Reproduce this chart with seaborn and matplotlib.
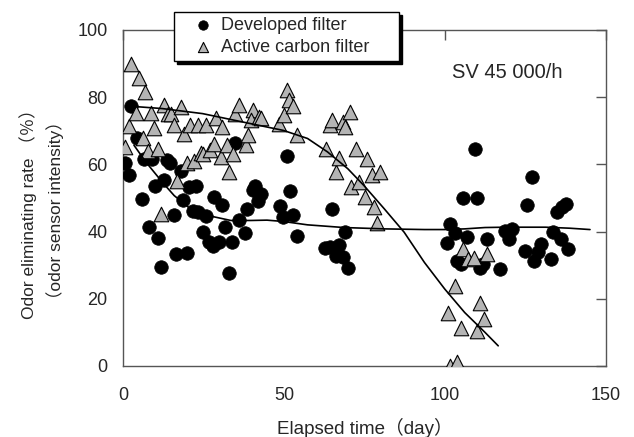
import numpy as np
import pandas as pd
import matplotlib
matplotlib.use("Agg")
import matplotlib.pyplot as plt
import seaborn as sns

# Developed filter (circles)
dev_day = [0.6, 1.9, 2.5, 4.3, 5.8, 6.6, 8.0, 8.9, 9.9, 10.8, 11.9, 12.8, 13.8, 14.7,
           15.9, 16.5, 17.9, 18.7, 20.0, 20.4, 22.8, 21.7, 23.4, 25.7, 24.7, 26.6, 28.1,
           28.4, 29.9, 30.7, 31.8, 32.8, 33.8, 34.7, 35.9, 37.9, 38.5, 40.3, 40.9, 41.9,
           42.9, 48.8, 49.8, 51.0, 51.8, 52.9, 54.0, 62.7, 64.2, 64.8, 66.1, 67.0, 68.3,
           68.9, 69.8, 100.5, 101.5, 103.0, 103.7, 104.9, 105.5, 106.8, 109.3, 109.9,
           110.9, 111.9, 113.0, 117.0, 118.7, 119.9, 120.9, 124.9, 125.5, 127.0, 127.7,
           128.9, 129.9, 132.8, 133.6, 134.9, 136.2, 135.9, 137.4, 138.1]
dev_rate = [60.4, 56.7, 77.3, 67.9, 49.6, 61.6, 41.3, 61.6, 53.6, 38.0, 29.4, 55.4, 61.2,
            60.4, 44.8, 33.3, 57.9, 49.3, 33.5, 53.4, 53.7, 46.1, 45.7, 44.5, 40.0, 37.0,
            35.7, 50.4, 37.0, 48.0, 41.3, 27.6, 37.0, 66.4, 43.5, 39.5, 46.8, 52.4, 53.7,
            49.0, 51.2, 47.5, 44.3, 62.4, 52.2, 44.8, 38.7, 35.2, 35.5, 46.8, 32.7, 36.0,
            32.3, 39.8, 29.1, 36.7, 42.3, 39.5, 31.2, 30.2, 49.9, 38.3, 64.7, 49.9, 29.3,
            30.2, 37.7, 28.9, 40.3, 37.8, 40.8, 34.3, 48.0, 56.1, 31.2, 33.8, 36.3, 31.7,
            39.8, 45.8, 47.3, 37.8, 48.3, 34.8]

# Active carbon filter (triangles)
act_day = [0.5, 1.9, 2.4, 4.0, 5.0, 6.1, 6.9, 7.9, 8.8, 9.6, 10.9, 11.9, 12.8, 13.9,
           14.9, 15.9, 16.9, 18.0, 19.0, 20.0, 20.7, 22.2, 23.2, 24.2, 24.7, 25.9, 26.9,
           28.4, 28.8, 30.3, 30.7, 32.2, 32.8, 34.1, 34.7, 36.0, 38.1, 38.8, 40.3, 39.7,
           42.2, 42.9, 48.5, 50.0, 50.8, 51.6, 52.9, 54.1, 62.9, 64.2, 64.8, 66.1, 67.1,
           68.3, 69.0, 70.4, 70.8, 72.3, 73.3, 75.2, 75.8, 77.3, 78.0, 78.9, 79.8, 100.8,
           101.5, 103.0, 103.8, 104.9, 105.5, 107.2, 108.9, 109.9, 110.9, 112.2, 113.0]
act_rate = [65.2, 71.3, 89.8, 75.3, 85.6, 67.7, 81.6, 63.9, 75.3, 70.8, 64.5, 45.3, 77.6,
            75.1, 75.1, 71.6, 54.9, 77.1, 68.9, 60.4, 71.6, 60.9, 71.8, 63.5, 63.2, 71.8,
            64.2, 66.2, 73.8, 62.2, 71.1, 65.7, 57.7, 63.2, 75.1, 77.6, 65.7, 68.7, 76.3,
            73.3, 74.1, 73.8, 71.9, 74.6, 82.1, 79.1, 77.4, 68.7, 64.7, 71.6, 73.1, 57.7,
            61.9, 72.6, 71.1, 75.6, 53.2, 64.7, 54.7, 50.4, 61.5, 56.7, 47.3, 42.6, 57.7,
            15.9, 0.0, 23.9, 1.2, 11.4, 34.8, 31.8, 32.0, 10.4, 18.7, 14.1, 33.3]

# trend curves
dev_fit_day = [3.4, 7.1, 12.2, 15.9, 20.9, 27.2, 33.5, 39.7, 44.7, 49.8, 57.3, 68.6,
               81.1, 93.6, 99.9, 106.1, 112.4, 118.7, 124.9, 131.2, 138.7, 145.0]
dev_fit_rate = [65.7, 60.7, 54.7, 50.7, 46.8, 44.6, 43.3, 43.3, 43.4, 43.0, 42.0, 41.2,
                40.8, 40.6, 40.6, 40.8, 41.2, 41.3, 41.3, 41.3, 41.0, 40.6]
act_fit_day = [0.9, 12.2, 24.7, 37.2, 49.8, 57.3, 63.5, 69.8, 74.8, 81.1, 87.3, 93.6,
               99.9, 106.1, 112.4, 116.5]
act_fit_rate = [77.4, 76.6, 75.1, 72.6, 70.1, 67.7, 63.7, 58.7, 53.7, 46.8, 39.8, 30.8,
                22.9, 15.9, 10.0, 6.0]

sns.set_style("white")
plt.rcParams["font.family"] = ["Liberation Sans", "Noto Sans CJK JP", "DejaVu Sans"]

fig = plt.figure(figsize=(6.34, 4.37), dpi=100)
ax = fig.add_axes([0.194, 0.1625, 0.762, 0.769])

sns.scatterplot(x=dev_day, y=dev_rate, ax=ax, marker="o", s=95, color="black",
                edgecolor="black", linewidth=0.5, label="Developed filter", zorder=3)
sns.scatterplot(x=act_day, y=act_rate, ax=ax, marker="^", s=110, color="#b4b4b4",
                edgecolor="black", linewidth=0.8, label="Active carbon filter", zorder=4)
sns.lineplot(x=dev_fit_day, y=dev_fit_rate, ax=ax, sort=False, color="black", lw=1.2,
             zorder=5, legend=False)
sns.lineplot(x=act_fit_day, y=act_fit_rate, ax=ax, sort=False, color="black", lw=1.2,
             zorder=5, legend=False)

ax.set_xlim(0, 150)
ax.set_ylim(0, 100)
ax.set_xticks([0, 50, 100, 150])
ax.set_yticks([0, 20, 40, 60, 80, 100])
ax.tick_params(direction="in", length=7, width=1, color="#555555", labelsize=13,
               top=True, right=True, labeltop=False, labelright=False)
ax.tick_params(axis="x", pad=15)
ax.tick_params(axis="y", pad=11)
for sp in ax.spines.values():
    sp.set_color("#555555")
    sp.set_linewidth(1)

ax.set_xlabel("Elapsed time（day）", fontsize=13.5, labelpad=10)
ax.set_ylabel("Odor eliminating rate （％）\n（odor sensor intensity）", fontsize=12.5,
              linespacing=1.6)
ax.yaxis.set_label_coords(-0.122, 0.465)

ax.text(102.2, 87.3, "SV 45 000/h", fontsize=14.5, va="center", ha="left")

leg = ax.legend(loc="upper left", bbox_to_anchor=(0.106, 0.9, 0.466, 0.154),
                mode="expand", borderaxespad=0,
                fontsize=13, frameon=True, fancybox=False, framealpha=1,
                edgecolor="black", borderpad=0.3, handletextpad=-0.3,
                labelspacing=0.25, handlelength=2.6, markerscale=0.7,
                shadow={"color": "black", "alpha": 1})
leg.get_frame().set_linewidth(1)
leg.set_zorder(10)

fig.savefig("out.png", dpi=100)
